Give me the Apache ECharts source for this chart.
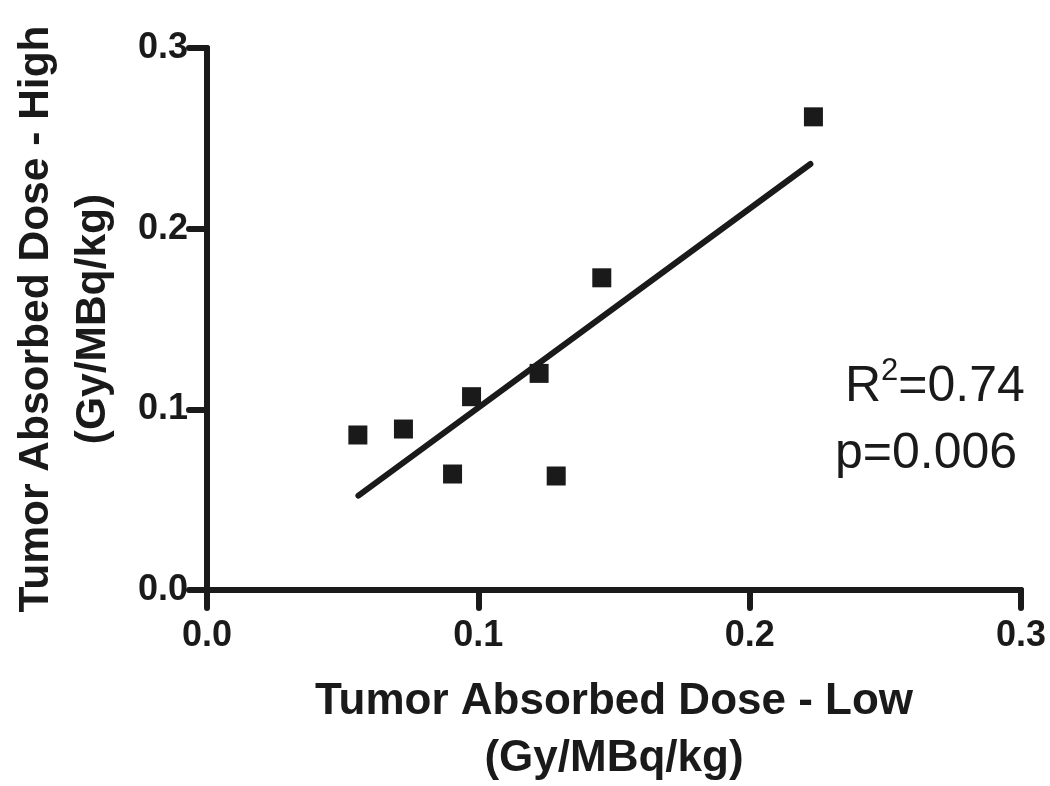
<!DOCTYPE html>
<html>
<head>
<meta charset="utf-8">
<script src="https://cdn.jsdelivr.net/npm/echarts@6/dist/echarts.min.js"></script>
<style>
html,body{margin:0;padding:0;background:#fff;}
#chart{width:1050px;height:786px;}
</style>
</head>
<body>
<div id="chart"></div>
<script>
// Data
const doseLow  = [0.0556, 0.0724, 0.0905, 0.0975, 0.1224, 0.1287, 0.1455, 0.2235];
const doseHigh = [0.0858, 0.0891, 0.0642, 0.1070, 0.1199, 0.0631, 0.1728, 0.2619];
const fitX = [0.0558, 0.2224];
const fitY = [0.0522, 0.2358];
const tickValues = [0.0, 0.1, 0.2, 0.3];
const xTitle = 'Tumor Absorbed Dose - Low\n(Gy/MBq/kg)';
const yTitle = 'Tumor Absorbed Dose - High\n(Gy/MBq/kg)';
const statR2 = '0.74';
const statP = '0.006';

const ink = '#1a1a1a';
const font = '"Liberation Sans", Arial, Helvetica, sans-serif';

const points = doseLow.map((x, i) => [x, doseHigh[i]]);
const fit = fitX.map((x, i) => [x, fitY[i]]);

function axisCommon(name, isX) {
  return {
    type: 'value',
    min: tickValues[0],
    max: tickValues[tickValues.length - 1],
    interval: 0.1,
    name: name,
    nameLocation: 'middle',
    nameGap: isX ? 83 : 85,
    nameRotate: isX ? 0 : 90,
    nameTextStyle: {
      fontFamily: font, fontWeight: 'bold', fontSize: isX ? 44 : 42.5, color: ink, lineHeight: 57
    },
    axisLine: { show: true, onZero: false, lineStyle: { color: ink, width: 6, cap: 'round' } },
    axisTick: { show: true, inside: false, length: 18, lineStyle: { color: ink, width: 6, cap: 'round' } },
    axisLabel: {
      fontFamily: font, fontWeight: 'bold', fontSize: 36, color: ink,
      margin: isX ? 28 : 19,
      formatter: v => v.toFixed(1)
    },
    splitLine: { show: false }
  };
}

const chart = echarts.init(document.getElementById('chart'), null, { renderer: 'canvas' });
chart.setOption({
  animation: false,
  backgroundColor: '#ffffff',
  grid: { left: 207, right: 29, top: 48, bottom: 196, containLabel: false, outerBoundsMode: 'none' },
  xAxis: axisCommon(xTitle, true),
  yAxis: axisCommon(yTitle, false),
  series: [
    {
      type: 'scatter',
      data: points,
      symbol: 'rect',
      symbolSize: 19,
      itemStyle: { color: ink, opacity: 1 },
      z: 3
    },
    {
      type: 'line',
      data: fit,
      showSymbol: false,
      symbol: 'none',
      lineStyle: { color: ink, width: 6, cap: 'round' },
      z: 4
    }
  ],
  graphic: [
    {
      type: 'text',
      left: 845,
      top: 356,
      style: {
        text: '{m|R}{s|2}{m|=' + statR2 + '}',
        rich: {
          m: { fontFamily: font, fontSize: 50, fill: ink, verticalAlign: 'bottom', lineHeight: 56 },
          s: { fontFamily: font, fontSize: 31, fill: ink, verticalAlign: 'top', lineHeight: 56 }
        }
      }
    },
    {
      type: 'text',
      left: 835,
      top: 429,
      style: {
        text: 'p=' + statP,
        fontFamily: font, fontSize: 50, fill: ink
      }
    }
  ]
});
</script>
</body>
</html>
